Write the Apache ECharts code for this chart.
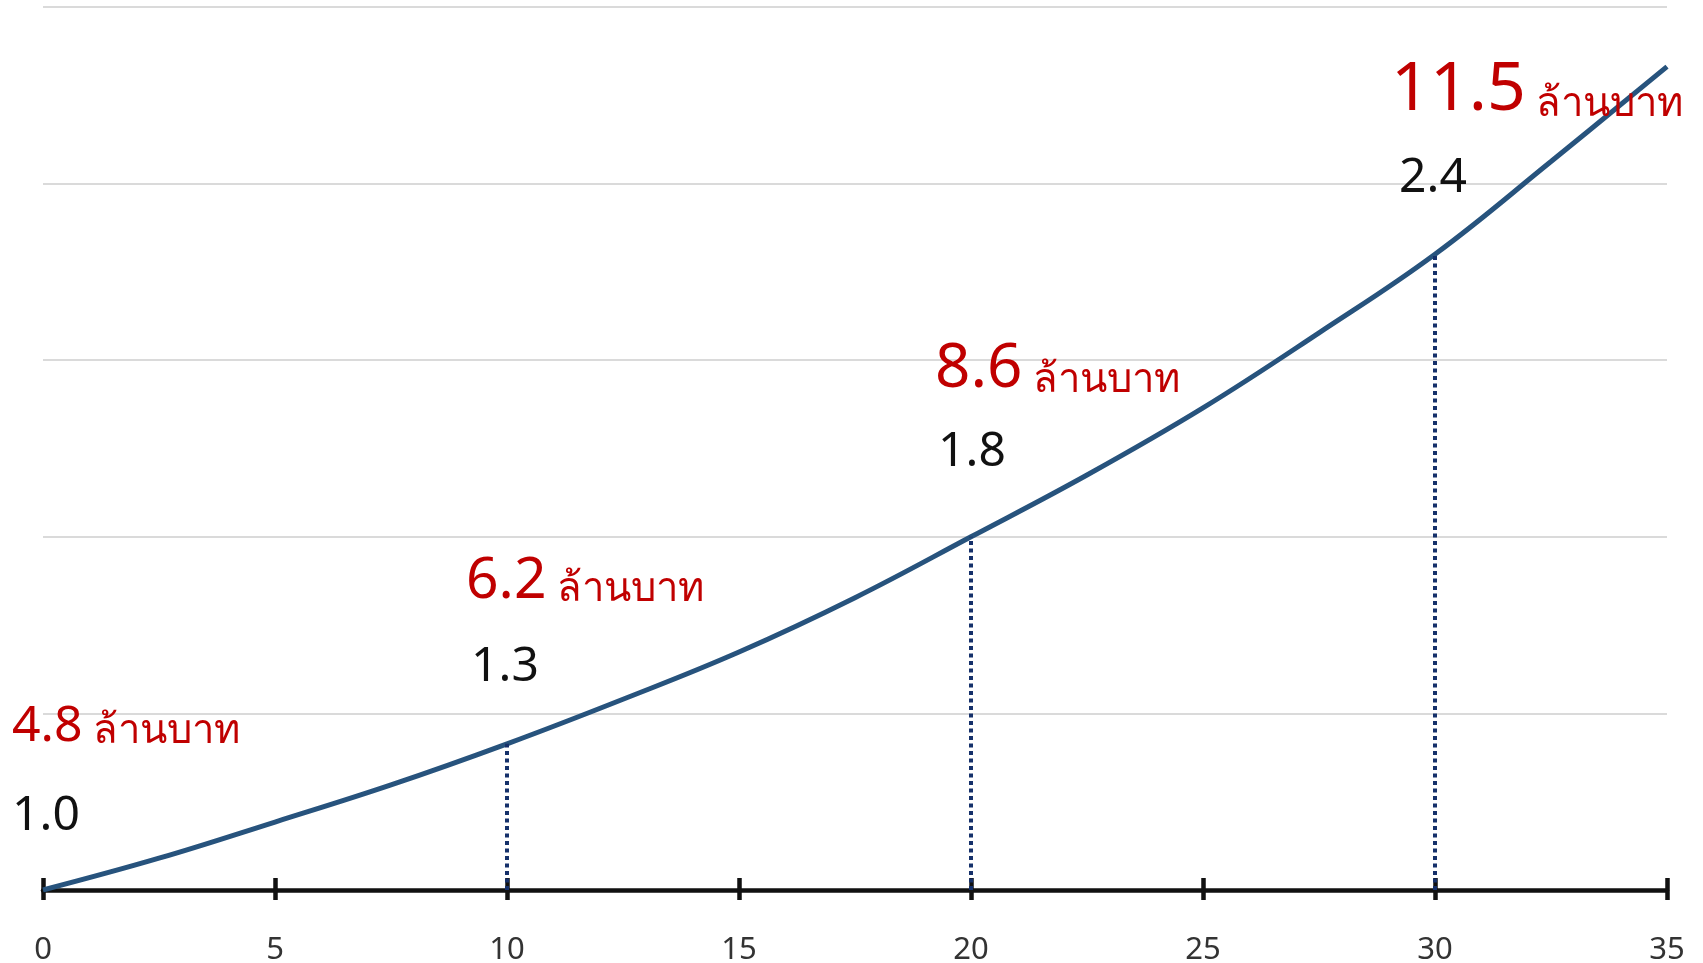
<!DOCTYPE html>
<html>
<head>
<meta charset="utf-8">
<script src="https://cdn.jsdelivr.net/npm/echarts@6/dist/echarts.min.js"></script>
<style>
  html, body { margin: 0; padding: 0; background: #ffffff; }
  #chart { width: 1703px; height: 963px; }
</style>
</head>
<body>
<div id="chart"></div>
<script>
// Years of saving and the growth multiple of the starting amount
const years  = [0, 2.5, 5, 7.5, 10, 12.5, 15, 17.5, 20, 22.5, 25, 27.5, 30, 32.5, 35];
const growth = [1.000, 1.072, 1.154, 1.238, 1.331, 1.432, 1.539, 1.662, 1.800, 1.940, 2.092, 2.262, 2.440, 2.650, 2.865];

// Highlighted milestones
const markYears   = [0, 10, 20, 30];
const multipliers = ['1.0', '1.3', '1.8', '2.4'];
const amounts     = ['4.8', '6.2', '8.6', '11.5'];
const unitText    = 'ล้านบาท';

// Axis ranges
const xTicks = [0, 5, 10, 15, 20, 25, 30, 35];
const yRange = [1.0, 3.0];
const yStep  = 0.4;

const FONT = '"Noto Sans", "DejaVu Sans", sans-serif';
const RED = '#c00000';
const INK = '#111111';

const curve = years.map((y, i) => [y, growth[i]]);
const valueAt = (yr) => growth[years.indexOf(yr)];

// Label placement relative to each milestone point on the curve
const redSizes    = [50, 57, 62, 68];
const redOffsets  = [[-31, -138], [-41, -134], [-36, -136], [-44, -130]];
const blackOffset = [[3, -55], [-2, -58], [1, -66], [-2, -57]];

const milestonePts = markYears.map(yr => [yr, valueAt(yr)]);

const redData = milestonePts.map((p, i) => ({
  value: p,
  label: {
    offset: redOffsets[i],
    formatter: '{n' + i + '|' + amounts[i] + '}{u| ' + unitText + '}'
  }
}));
const redRich = {
  u: { fontSize: 40, color: RED, fontFamily: FONT, lineHeight: 31, verticalAlign: 'bottom', textBorderWidth: 0 }
};
redSizes.forEach((s, i) => {
  redRich['n' + i] = {
    fontSize: s, color: RED, fontFamily: FONT, lineHeight: Math.round(s * 0.776),
    verticalAlign: 'bottom', textBorderWidth: 0
  };
});

const blackData = milestonePts.map((p, i) => ({
  value: p,
  label: { offset: blackOffset[i], formatter: multipliers[i] }
}));

const chart = echarts.init(document.getElementById('chart'), null, { renderer: 'canvas' });

chart.setOption({
  animation: false,
  backgroundColor: '#ffffff',
  grid: { left: 43, right: 36, top: 7, bottom: 73, containLabel: false, outerBoundsMode: 'none' },
  xAxis: [
    {
      type: 'value', min: xTicks[0], max: xTicks[xTicks.length - 1], interval: xTicks[1] - xTicks[0],
      axisLine: { show: true, onZero: false, lineStyle: { color: INK, width: 4.5 } },
      axisTick: { show: true, length: 10, lineStyle: { color: INK, width: 4.5 } },
      axisLabel: { show: true, margin: 45, fontSize: 31, color: '#333333', fontFamily: FONT },
      splitLine: { show: false }
    },
    {
      type: 'value', min: xTicks[0], max: xTicks[xTicks.length - 1], interval: xTicks[1] - xTicks[0],
      position: 'bottom', gridIndex: 0,
      axisLine: { show: false, onZero: false },
      axisTick: { show: true, inside: true, length: 12, lineStyle: { color: INK, width: 4.5 } },
      axisLabel: { show: false },
      splitLine: { show: false }
    }
  ],
  yAxis: {
    type: 'value', min: yRange[0], max: yRange[1], interval: yStep,
    axisLine: { show: false }, axisTick: { show: false }, axisLabel: { show: false },
    splitLine: { show: true, lineStyle: { color: '#dadada', width: 1.8 } }
  },
  series: [
    {
      type: 'line',
      data: curve,
      smooth: 0.4,
      showSymbol: false,
      z: 3,
      lineStyle: { color: '#27537d', width: 5 },
      markLine: {
        silent: true,
        symbol: ['none', 'none'],
        label: { show: false },
        lineStyle: { color: '#15306a', width: 4, type: [4, 3.5], opacity: 1 },
        data: markYears.filter(yr => yr > 0).map(yr => [
          { coord: [yr, yRange[0]] },
          { coord: [yr, valueAt(yr)] }
        ])
      }
    },
    {
      type: 'scatter',
      data: redData,
      symbolSize: 0,
      clip: false,
      silent: true,
      z: 5,
      itemStyle: { opacity: 1 },
      label: {
        show: true, position: 'inside', align: 'left', verticalAlign: 'bottom',
        color: RED, textBorderWidth: 0, rich: redRich
      }
    },
    {
      type: 'scatter',
      data: blackData,
      symbolSize: 0,
      clip: false,
      silent: true,
      z: 5,
      itemStyle: { opacity: 1 },
      label: {
        show: true, position: 'inside', align: 'center', verticalAlign: 'bottom',
        fontSize: 48, lineHeight: 37, color: INK, textBorderWidth: 0, fontFamily: FONT
      }
    }
  ]
});
</script>
</body>
</html>
